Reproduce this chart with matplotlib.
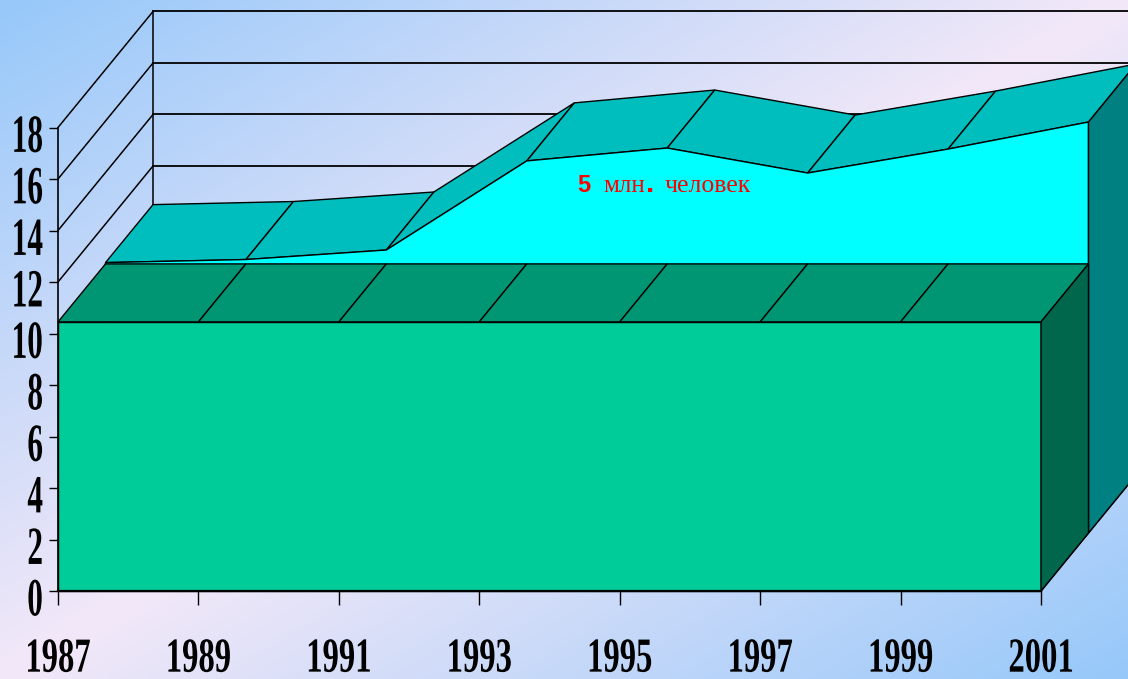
import numpy as np
import matplotlib.pyplot as plt
from matplotlib.patches import Polygon
from matplotlib.patheffects import AbstractPathEffect
from matplotlib.transforms import Affine2D
from matplotlib.path import Path

# data
years = [1987, 1989, 1991, 1993, 1995, 1997, 1999, 2001]
front_vals = [10.45, 10.45, 10.45, 10.45, 10.45, 10.45, 10.45, 10.45]
back_vals = [10.5, 10.62, 10.99, 14.45, 14.95, 13.98, 14.91, 15.96]
y_ticks = [0, 2, 4, 6, 8, 10, 12, 14, 16, 18]
label_big = "5"
label_text = ["млн", ".", "человек"]

# fake 3d depth (full depth of the box, in data units)
DEPTH_DX = 1.353
DEPTH_DY = 4.505


def proj(x, v, d):
    return x + d * DEPTH_DX, v + d * DEPTH_DY


class Stretch(AbstractPathEffect):
    """Stretches text glyphs vertically (tall condensed look) and nudges them"""

    def __init__(self, sy, anchor="center", ox=0, oy=0):
        super().__init__()
        self.sy, self.anchor, self.ox, self.oy = sy, anchor, ox, oy

    def draw_path(self, renderer, gc, tpath, affine, rgbFace=None):
        verts = tpath.vertices
        if tpath.codes is not None:
            verts = verts[tpath.codes != Path.CLOSEPOLY]
        pts = affine.transform(verts)
        if self.anchor == "top":
            ya = pts[:, 1].max()
        else:
            ya = (pts[:, 1].min() + pts[:, 1].max()) / 2
        tr = affine + Affine2D().translate(0, -ya).scale(1, self.sy).translate(self.ox, ya + self.oy)
        renderer.draw_path(gc, tpath, tr, rgbFace)


def draw_series(ax, xs, vs, d0, d1, c_front, c_top, c_side, z):
    # top faces, one quad per segment
    for i in range(len(xs) - 1):
        quad = [proj(xs[i], vs[i], d0), proj(xs[i + 1], vs[i + 1], d0),
                proj(xs[i + 1], vs[i + 1], d1), proj(xs[i], vs[i], d1)]
        ax.add_patch(Polygon(quad, closed=True, fc=c_top, ec="black", lw=1,
                             clip_on=False, zorder=z))
    front = [proj(x, v, d0) for x, v in zip(xs, vs)]
    front += [proj(xs[-1], 0, d0), proj(xs[0], 0, d0)]
    ax.add_patch(Polygon(front, closed=True, fc=c_front, ec="black", lw=1,
                         clip_on=False, zorder=z + 1))
    side = [proj(xs[-1], vs[-1], d0), proj(xs[-1], vs[-1], d1),
            proj(xs[-1], 0, d1), proj(xs[-1], 0, d0)]
    ax.add_patch(Polygon(side, closed=True, fc=c_side, ec="black", lw=1,
                         clip_on=False, zorder=z + 1))


W, H = 1128, 679
fig = plt.figure(figsize=(W / 100, H / 100), dpi=100)

# background gradient: blue corners top-left / bottom-right, lavender across the middle
bg = fig.add_axes([0, 0, 1, 1], zorder=-1)
gx, gy = np.meshgrid(np.linspace(0, 1, 400), np.linspace(0, 1, 250))
t = (gx + gy) / 2
w = 1 - np.abs(2 * t - 1)
blue = np.array([150, 200, 250]) / 255
pink = np.array([243, 232, 248]) / 255
grad = blue * (1 - w[..., None]) + pink * w[..., None]
bg.imshow(grad, aspect="auto", extent=[0, 1, 0, 1], interpolation="bilinear")
bg.axis("off")

ax = fig.add_axes([58 / W, (H - 591) / H, (1041 - 58) / W, (591 - 127.5) / H])
ax.set_facecolor("none")
ax.set_xlim(years[0], years[-1])
ax.set_ylim(0, 18)

# walls
x0, x1 = years[0], years[-1]
for v in y_ticks:
    ax.plot([x0, x0 + DEPTH_DX], [v, v + DEPTH_DY], color="black", lw=1.1,
            clip_on=False, zorder=1)
    ax.plot([x0 + DEPTH_DX, x1 + DEPTH_DX], [v + DEPTH_DY] * 2, color="black",
            lw=1.3, clip_on=False, zorder=1)
ax.plot([x0 + DEPTH_DX] * 2, [DEPTH_DY, 18 + DEPTH_DY], color="black", lw=1.1,
        clip_on=False, zorder=1)
ax.plot([x1, x1 + DEPTH_DX], [0, DEPTH_DY], color="black", lw=1.1,
        clip_on=False, zorder=1)

# back series, then front series
draw_series(ax, years, back_vals, 0.5, 1.0, "#00FFFF", "#00BEBE", "#008080", 3)
draw_series(ax, years, front_vals, 0.0, 0.5, "#00CC99", "#009673", "#00664C", 6)

for s in ["top", "right"]:
    ax.spines[s].set_visible(False)
ax.spines["left"].set_linewidth(1.2)
ax.spines["bottom"].set_linewidth(1.6)
ax.spines["left"].set_zorder(10)
ax.spines["bottom"].set_zorder(10)

ax.set_xticks(years)
ax.set_yticks(y_ticks)
ax.tick_params(axis="y", length=6.5, width=1, pad=4.3)
ax.tick_params(axis="x", length=10, width=1, pad=23)
ax.set_xticklabels([str(y) for y in years], fontsize=23.5, fontweight="bold",
                   family="Liberation Serif")
ax.set_yticklabels([str(v) for v in y_ticks], fontsize=22.5, fontweight="bold",
                   family="Liberation Serif")
for lab in ax.get_xticklabels():
    lab.set_path_effects([Stretch(1.5, "top")])
for lab in ax.get_yticklabels():
    lab.set_path_effects([Stretch(1.72, "center", 0, -6)])

# red annotation
lx, ly = 1994.392, 15.5
ax.annotate(label_big, (lx, ly), xytext=(0, 0), textcoords="offset pixels",
            color="red", fontsize=17, fontweight="bold", family="Liberation Sans",
            va="baseline", zorder=20)
ax.annotate(label_text[0], (lx, ly), xytext=(26, 0), textcoords="offset pixels",
            color="red", fontsize=18, family="Liberation Serif", va="baseline", zorder=20)
ax.annotate(label_text[1], (lx, ly), xytext=(69, 0), textcoords="offset pixels",
            color="red", fontsize=21, fontweight="bold", family="Liberation Sans",
            va="baseline", zorder=20)
ax.annotate(label_text[2], (lx, ly), xytext=(88, 0), textcoords="offset pixels",
            color="red", fontsize=18.5, family="Liberation Serif", va="baseline", zorder=20)

fig.savefig("out.png", dpi=100)
